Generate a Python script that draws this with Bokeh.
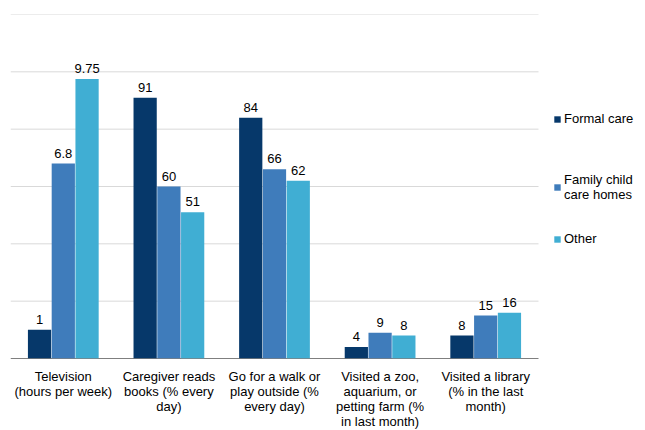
from bokeh.plotting import figure
from bokeh.models import ColumnDataSource, Legend, LegendItem, Range1d, FixedTicker
from bokeh.core.properties import value
from bokeh.embed import file_html
from bokeh.resources import INLINE

categories = [
    "Television\n(hours per week)",
    "Caregiver reads\nbooks (% every\nday)",
    "Go for a walk or\nplay outside (%\nevery day)",
    "Visited a zoo,\naquarium, or\npetting farm (%\nin last month)",
    "Visited a library\n(% in the last\nmonth)",
]
series_names = ["Formal care", "Family child\ncare homes", "Other"]
formal_care = [1, 91, 84, 4, 8]
family_homes = [6.8, 60, 66, 9, 15]
other = [9.75, 51, 62, 8, 16]
grid_values = [20, 40, 60, 80, 100, 120]
colors = ["#06386a", "#3f7cbb", "#40aed3"]

# Television is in hours per week; it is drawn x10 to share the percent axis
row_scale = [10, 1, 1, 1, 1]

FONT = "Liberation Sans"
n = len(categories)
centers = [i + 0.5 for i in range(n)]

# plot area: 5 category slots of equal width, plus room on the right for the legend
p = figure(
    x_range=Range1d(0, 635 / 105.6),
    y_range=Range1d(0, 120),
    frame_width=635, frame_height=344,
    output_backend="svg", toolbar_location=None,
    min_border_left=10, min_border_top=14, min_border_bottom=0,
    min_border_right=0,
)
p.outline_line_color = None
p.background_fill_color = "white"
p.border_fill_color = "white"

p.yaxis.visible = False
p.xgrid.visible = False
p.ygrid.visible = False

# horizontal gridlines over the category slots only
p.segment(x0=[0] * len(grid_values), x1=[n] * len(grid_values),
          y0=grid_values, y1=grid_values, line_color="#d9d9d9", line_width=1)
# category baseline
p.segment(x0=[0], x1=[n], y0=[0], y1=[0], line_color="#000000", line_width=1)

p.xaxis.ticker = FixedTicker(ticks=centers)
p.xaxis.major_label_overrides = {c: lab for c, lab in zip(centers, categories)}
p.xaxis.axis_line_color = None
p.xaxis.major_tick_line_color = None
p.xaxis.minor_tick_line_color = None
p.xaxis.major_label_standoff = 4
p.xaxis.major_label_text_font = FONT
p.xaxis.major_label_text_font_size = "13px"
p.xaxis.major_label_text_line_height = 1.0
p.xaxis.major_label_text_color = "#000000"

offsets = [-0.225, 0.0, 0.225]
renderers = []
for name, vals, col, off in zip(series_names, [formal_care, family_homes, other], colors, offsets):
    src = ColumnDataSource(dict(
        x=[c + off for c in centers],
        top=[v * s for v, s in zip(vals, row_scale)],
        label=[f"{v:g}" for v in vals],
    ))
    r = p.vbar(x="x", top="top", width=0.22, source=src,
               fill_color=col, line_color=None)
    p.text(x="x", y="top", text="label", source=src,
           text_align="center", text_baseline="bottom", y_offset=-6,
           text_font=value(FONT), text_font_size="13px", text_color="#000000")
    renderers.append(r)

# one legend box per series, placed beside the bars
legend_y = [232, 156, 112]
for name, r, ly in zip(series_names, renderers, legend_y):
    lg = Legend(
        items=[LegendItem(label=name, renderers=[r])],
        location=(543, ly),
        border_line_color=None,
        background_fill_alpha=0,
        label_text_font=FONT,
        label_text_font_size="13px",
        label_text_line_height=1.0,
        label_text_color="#000000",
        glyph_width=8, glyph_height=8,
        label_standoff=3,
        padding=0,
        margin=0,
    )
    p.add_layout(lg)

open("out.html", "w").write(file_html(p, INLINE))
